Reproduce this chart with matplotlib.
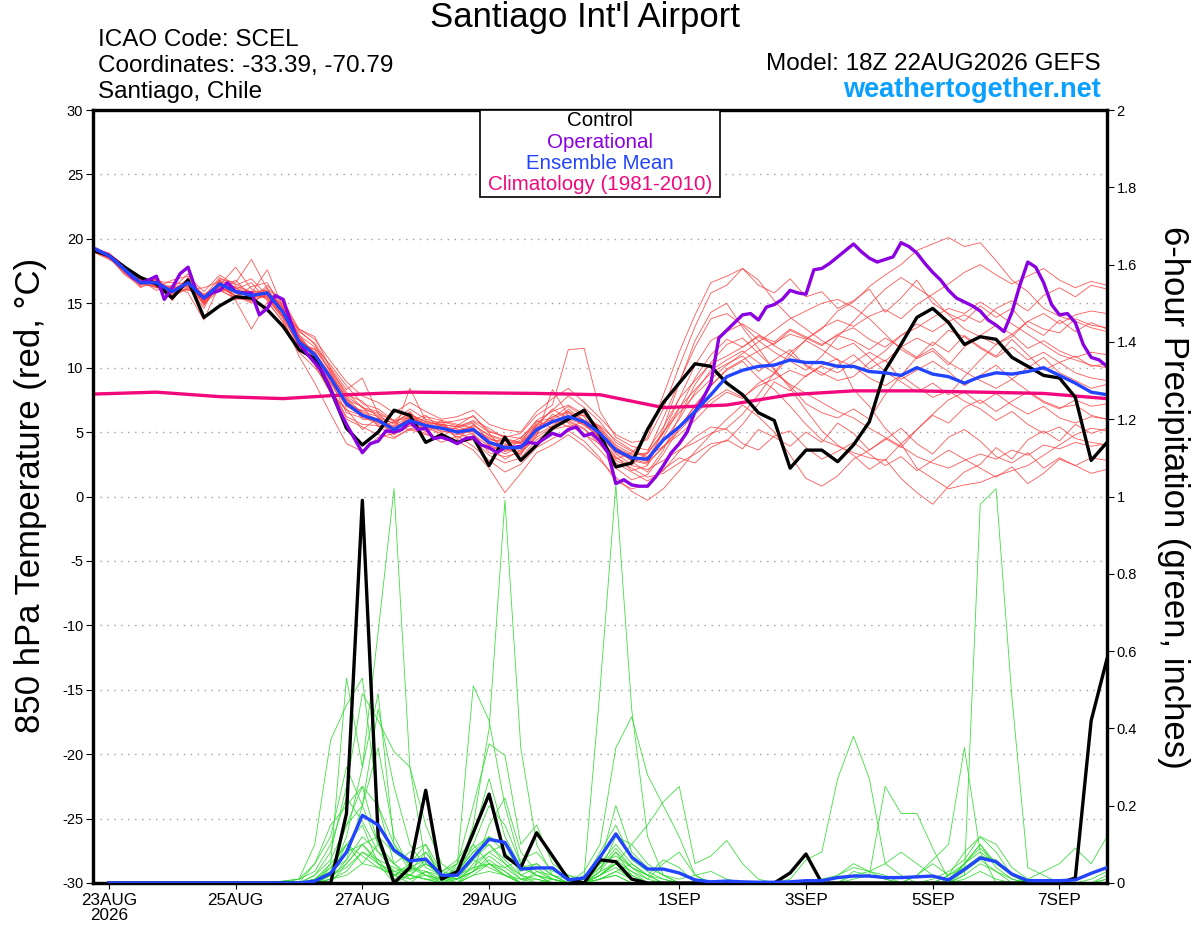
import numpy as np
import matplotlib
matplotlib.use("Agg")
import matplotlib.pyplot as plt
from matplotlib.patches import Rectangle
from datetime import datetime, timedelta

plt.rcParams['font.family'] = ['Liberation Sans', 'DejaVu Sans']
plt.rcParams['axes.unicode_minus'] = False

# ---------------- data ----------------
RUN = datetime(2026, 8, 22, 18)
TEMP_STEP_H = 6      # ensemble / control temperature step
OPER_STEP_H = 3      # operational temperature step
CLIM_STEP_H = 24     # climatology step
PCP_START_H = 6      # first 6-hour precip accumulation
PCP_STEP_H = 6

tick_dates = ["2026-08-23", "2026-08-25", "2026-08-27", "2026-08-29",
              "2026-09-01", "2026-09-03", "2026-09-05", "2026-09-07"]
tick_labels = ["23AUG\n2026", "25AUG", "27AUG", "29AUG", "1SEP", "3SEP", "5SEP", "7SEP"]
temp_ticks = [-30, -25, -20, -15, -10, -5, 0, 5, 10, 15, 20, 25, 30]
pcp_ticks = [0, 0.2, 0.4, 0.6, 0.8, 1.0, 1.2, 1.4, 1.6, 1.8, 2.0]
pcp_tick_labels = ["0", "0.2", "0.4", "0.6", "0.8", "1", "1.2", "1.4", "1.6", "1.8", "2"]

control_temp = [19.1, 18.7, 17.8, 17.0, 16.5, 15.4, 16.8, 13.9, 14.8, 15.5,
                15.4, 14.5, 13.2, 11.4, 10.7, 8.3, 5.3, 4.0, 5.0, 6.7,
                6.3, 4.2, 4.8, 4.2, 4.6, 2.4, 4.6, 2.8, 4.0, 5.3,
                6.0, 6.7, 4.8, 2.3, 2.6, 5.2, 7.3, 8.8, 10.3, 10.1,
                8.8, 7.9, 6.5, 5.9, 2.2, 3.6, 3.6, 2.7, 4.0, 5.8,
                9.8, 11.8, 13.9, 14.6, 13.5, 11.8, 12.4, 12.2, 10.8, 10.1,
                9.4, 9.2, 7.7, 2.8, 4.2]

mean_temp = [19.3, 18.7, 17.6, 16.6, 16.6, 15.9, 16.6, 15.4,
             16.5, 15.9, 15.6, 15.8, 14.3, 12.0, 11.0, 9.2,
             7.2, 6.3, 5.9, 5.2, 5.9, 5.5, 5.3, 5.0,
             5.2, 4.2, 3.8, 3.8, 5.2, 5.8, 6.2, 5.8,
             4.9, 3.6, 3.0, 2.9, 4.4, 5.4, 6.6, 7.9,
             9.3, 9.8, 10.1, 10.2, 10.6, 10.4, 10.4, 10.1,
             10.1, 9.7, 9.6, 9.4, 10.0, 9.5, 9.3, 8.8,
             9.3, 9.6, 9.5, 9.7, 10.0, 9.4, 8.8, 8.1,
             7.9]

oper_temp = [19.3, 19.0, 18.7, 18.2, 17.6, 17.0, 16.6, 16.8, 17.1, 15.3,
             16.2, 17.3, 17.8, 16.0, 15.4, 15.8, 16.0, 16.6, 15.9, 15.8,
             15.8, 14.1, 14.6, 15.6, 15.3, 13.5, 11.9, 11.1, 10.4, 9.6,
             8.3, 6.8, 5.6, 4.5, 3.4, 4.1, 4.3, 5.1, 5.0, 5.2,
             5.8, 5.2, 5.3, 4.5, 4.6, 4.4, 4.1, 4.5, 4.6, 4.0,
             3.8, 3.4, 3.8, 3.8, 3.9, 4.2, 4.1, 4.5, 4.9, 4.7,
             5.2, 5.4, 4.7, 4.9, 4.3, 3.4, 1.0, 1.3, 0.9, 0.8,
             0.8, 1.5, 2.4, 3.4, 4.1, 5.0, 6.6, 7.6, 8.8, 12.3,
             12.9, 13.5, 14.1, 14.2, 13.7, 14.7, 14.9, 15.3, 16.0, 15.8,
             15.7, 17.6, 17.7, 18.1, 18.6, 19.1, 19.6, 19.0, 18.5, 18.2,
             18.4, 18.6, 19.7, 19.4, 18.9, 18.1, 17.4, 16.8, 16.0, 15.4,
             15.1, 14.8, 14.4, 13.7, 13.3, 12.8, 14.3, 16.4, 18.2, 17.8,
             16.6, 14.9, 14.1, 14.2, 13.5, 11.8, 10.8, 10.6, 10.1]

clim_temp = [7.95, 8.1, 7.75, 7.6, 7.9, 8.1, 8.05, 8.0, 7.9, 6.9,
             7.1, 7.9, 8.2, 8.2, 8.1, 8.0, 7.6]

t_m01 = [19.2, 18.9, 17.9, 16.9, 16.2, 16.8, 17.1, 15.9,
         17.2, 16.4, 16.9, 15.6, 14.0, 12.4, 10.6, 8.1,
         6.8, 5.2, 6.1, 4.9, 6.4, 5.8, 4.6, 5.5,
         4.8, 3.9, 2.9, 3.6, 4.9, 6.4, 5.7, 4.8,
         4.1, 2.9, 3.4, 4.6, 7.9, 11.2, 14.1, 16.6,
         17.1, 17.7, 16.4, 15.8, 16.9, 15.5, 15.9, 14.6,
         15.2, 16.1, 14.3, 15.4, 16.8, 15.0, 14.2, 13.6,
         14.8, 13.9, 14.6, 13.2, 12.5, 13.7, 12.8, 13.5, 13.0]
t_m02 = [19.0, 18.5, 17.4, 16.2, 17.0, 15.5, 16.2, 15.0,
         16.0, 15.4, 15.2, 16.4, 15.0, 12.9, 11.8, 9.6,
         7.5, 7.0, 5.4, 5.8, 5.1, 6.2, 5.9, 4.4,
         5.6, 4.7, 4.3, 3.2, 5.8, 6.1, 7.0, 6.2,
         4.5, 3.1, 2.0, 2.4, 5.3, 8.8, 12.1, 14.3,
         15.0, 13.1, 11.5, 9.8, 8.6, 7.2, 6.5, 6.1,
         6.8, 6.0, 7.9, 9.4, 10.8, 12.0, 11.2, 12.5,
         11.6, 10.9, 12.2, 11.0, 9.8, 10.4, 9.6, 9.2, 9.0]
t_m03 = [19.1, 18.6, 17.2, 16.4, 16.9, 15.2, 16.9, 14.8,
         16.8, 15.2, 13.0, 15.1, 13.6, 11.2, 10.0, 8.5,
         6.0, 5.4, 4.8, 4.5, 5.3, 4.9, 4.2, 4.7,
         3.9, 2.8, 1.9, 2.5, 3.8, 4.5, 5.1, 4.3,
         3.0, 1.2, 0.6, 0.9, 2.1, 3.0, 2.6, 3.8,
         4.4, 3.7, 5.2, 4.6, 3.9, 5.0, 4.2, 5.7,
         4.9, 3.6, 4.4, 5.3, 4.1, 3.3, 4.6, 5.2,
         4.3, 3.1, 2.6, 3.4, 2.2, 3.0, 2.4, 1.8, 2.1]
t_m04 = [19.2, 18.8, 17.7, 16.8, 16.4, 16.3, 16.0, 15.7,
         15.9, 16.3, 15.9, 15.3, 13.9, 11.6, 11.5, 9.8,
         8.1, 6.9, 6.3, 5.6, 6.6, 5.2, 5.8, 5.5,
         6.3, 4.9, 3.5, 4.4, 5.5, 6.8, 6.0, 6.6,
         5.2, 3.9, 2.7, 1.9, 3.6, 6.2, 8.7, 10.4,
         11.8, 12.3, 11.1, 9.9, 8.4, 6.7, 5.1, 4.0,
         3.2, 2.1, 2.9, 1.4, 0.3, -0.6, 0.8, 1.9,
         2.5, 3.8, 2.9, 4.4, 5.1, 4.3, 5.6, 4.9, 5.3]
t_m05 = [19.3, 18.7, 17.5, 16.7, 16.8, 15.8, 16.4, 15.6,
         16.2, 15.6, 15.0, 15.9, 14.8, 12.2, 10.8, 8.9,
         7.3, 6.6, 6.2, 5.0, 8.4, 5.9, 5.5, 5.2,
         5.0, 4.5, 4.1, 3.5, 4.8, 5.5, 6.5, 5.6,
         4.6, 3.8, 3.2, 3.4, 5.0, 6.9, 8.3, 9.6,
         10.3, 10.9, 9.7, 10.6, 11.4, 10.1, 9.4, 10.2,
         11.0, 9.9, 10.6, 9.1, 9.8, 10.5, 9.7, 8.6,
         9.4, 10.2, 9.1, 10.0, 10.8, 9.6, 9.0, 8.4, 8.7]
t_m06 = [19.0, 18.4, 17.8, 16.3, 16.5, 16.1, 17.3, 15.2,
         16.6, 16.5, 15.8, 17.6, 14.6, 12.6, 10.9, 9.0,
         6.5, 6.1, 6.0, 5.4, 6.0, 5.0, 5.6, 4.9,
         4.5, 3.6, 4.0, 4.2, 5.9, 5.3, 6.8, 5.9,
         5.5, 4.4, 3.6, 3.1, 3.9, 4.8, 5.9, 7.2,
         8.1, 7.6, 8.8, 9.5, 10.9, 12.2, 13.0, 14.4,
         15.1, 16.3, 17.2, 18.0, 19.1, 19.6, 20.1, 19.4,
         19.7, 18.3, 16.8, 15.9, 14.6, 14.0, 13.6, 13.1, 12.8]
t_m07 = [19.1, 18.8, 17.6, 17.0, 16.3, 15.6, 16.7, 14.9,
         16.4, 17.8, 16.1, 15.5, 14.5, 12.3, 11.2, 9.4,
         7.7, 6.4, 5.7, 5.5, 6.2, 5.6, 5.0, 5.1,
         5.4, 4.0, 3.3, 3.9, 5.0, 6.0, 5.4, 5.8,
         4.8, 3.3, 2.5, 3.4, 6.1, 8.9, 11.6, 13.8,
         14.2, 13.3, 12.1, 11.2, 10.5, 9.8, 10.9, 12.4,
         13.6, 14.9, 16.1, 17.0, 16.2, 15.4, 14.1, 13.0,
         12.4, 11.8, 12.6, 11.5, 12.1, 11.3, 10.8, 11.2, 11.0]
t_m08 = [19.2, 18.6, 17.3, 16.5, 16.9, 15.4, 16.3, 15.2,
         16.1, 15.3, 15.4, 16.2, 14.1, 11.8, 11.1, 9.5,
         7.6, 6.0, 5.9, 4.8, 5.5, 5.2, 5.4, 4.6,
         4.9, 3.4, 3.1, 3.4, 4.6, 5.4, 5.9, 5.3,
         4.0, 2.6, 1.9, 1.2, 2.0, 3.5, 4.6, 5.4,
         5.2, 4.1, 3.6, 4.7, 5.1, 3.8, 2.9, 3.5,
         4.2, 3.3, 2.4, 3.1, 2.0, 2.8, 3.6, 2.9,
         2.2, 1.5, 2.3, 1.0, 1.8, 2.9, 2.4, 3.0, 2.8]
t_m09 = [19.3, 18.9, 17.8, 16.5, 16.7, 16.6, 16.5, 15.5,
         17.0, 16.2, 15.3, 15.9, 14.9, 12.5, 11.6, 10.2,
         8.6, 7.2, 6.8, 5.9, 6.8, 6.0, 5.7, 5.9,
         6.2, 5.1, 4.6, 4.9, 6.3, 7.1, 11.4, 11.5,
         6.6, 4.6, 3.9, 3.6, 5.4, 7.6, 9.0, 10.3,
         10.9, 11.6, 12.4, 11.8, 12.9, 12.3, 11.7, 12.6,
         13.1, 12.2, 11.6, 12.5, 13.4, 12.8, 13.6, 14.1,
         13.5, 14.6, 15.2, 14.4, 15.6, 16.2, 15.5, 16.4, 16.1]
t_m10 = [19.1, 18.5, 17.5, 16.6, 16.2, 16.0, 16.9, 15.3,
         16.3, 16.0, 15.7, 15.4, 13.8, 10.9, 8.8, 6.4,
         4.1, 3.5, 4.6, 4.9, 5.7, 5.3, 4.9, 4.2,
         4.4, 3.2, 2.6, 3.0, 4.4, 5.2, 5.5, 4.9,
         3.6, 2.2, 1.3, 1.7, 3.3, 5.3, 7.1, 8.6,
         9.8, 10.5, 9.2, 8.3, 7.0, 5.6, 4.4, 3.9,
         3.4, 3.0, 2.8, 4.1, 5.2, 6.3, 5.7, 6.9,
         7.5, 6.6, 7.4, 8.1, 7.3, 6.8, 7.5, 7.0, 7.2]
t_m11 = [19.2, 18.7, 17.9, 16.7, 16.6, 15.7, 16.1, 16.2,
         16.7, 15.5, 16.3, 16.6, 14.4, 12.1, 10.4, 8.7,
         7.0, 6.7, 6.5, 5.1, 5.9, 6.3, 5.2, 5.3,
         5.7, 4.3, 3.9, 4.6, 5.6, 6.7, 7.8, 6.9,
         5.8, 4.2, 3.5, 3.0, 4.9, 7.6, 10.2, 12.1,
         12.8, 13.4, 12.6, 11.7, 11.0, 10.2, 9.6, 9.0,
         9.3, 10.4, 11.3, 12.5, 13.1, 13.9, 14.6, 14.2,
         15.1, 14.3, 13.4, 12.6, 11.8, 11.0, 10.6, 10.2, 10.0]
t_m12 = [19.0, 18.6, 17.6, 16.4, 17.1, 15.6, 16.6, 15.1,
         16.2, 15.8, 15.1, 15.7, 14.2, 13.0, 12.4, 9.9,
         7.9, 7.4, 6.1, 5.7, 6.5, 5.4, 5.9, 5.6,
         5.3, 4.4, 4.3, 4.1, 5.3, 6.2, 6.6, 5.7,
         4.4, 3.0, 2.4, 2.1, 2.8, 3.6, 4.2, 4.9,
         5.3, 6.4, 7.9, 9.6, 11.2, 12.1, 11.4, 10.6,
         10.1, 9.2, 8.6, 9.4, 8.5, 7.7, 8.2, 7.4,
         6.8, 5.9, 6.6, 5.6, 4.9, 5.4, 4.5, 4.2, 4.0]
t_m13 = [19.3, 18.8, 17.4, 16.8, 16.0, 16.4, 15.8, 13.7,
         16.5, 16.1, 16.6, 15.2, 13.5, 11.5, 10.7, 8.4,
         6.2, 5.6, 5.5, 4.6, 5.2, 4.8, 4.5, 4.3,
         3.6, 2.2, 0.3, 1.8, 3.4, 4.0, 4.8, 3.9,
         2.8, 1.5, 0.4, -0.3, 0.6, 2.0, 3.5, 4.8,
         6.0, 7.1, 6.2, 5.0, 3.2, 1.4, 0.8, 1.6,
         2.9, 3.6, 4.5, 3.8, 5.2, 6.4, 7.5, 8.1,
         7.2, 8.0, 7.1, 6.4, 7.0, 6.1, 5.7, 6.2, 6.0]
t_m14 = [19.1, 18.7, 17.7, 16.6, 16.4, 16.2, 16.4, 14.6,
         16.9, 16.6, 18.4, 16.1, 15.2, 13.0, 12.2, 10.5,
         8.9, 7.8, 7.3, 6.5, 7.3, 6.6, 6.0, 6.2,
         6.7, 5.6, 5.2, 5.0, 6.6, 7.6, 8.4, 7.3,
         6.1, 4.8, 4.2, 4.4, 6.8, 10.1, 13.2, 15.8,
         16.4, 17.7, 16.8, 15.2, 13.9, 13.0, 12.1, 11.4,
         11.9, 10.8, 9.7, 8.9, 8.1, 8.8, 7.9, 9.3,
         10.6, 11.8, 12.4, 13.6, 13.0, 12.7, 13.8, 13.3, 13.1]
t_m15 = [19.2, 18.5, 17.5, 16.9, 16.6, 15.3, 17.0, 15.6,
         16.0, 16.8, 15.5, 15.7, 14.7, 12.8, 11.9, 10.0,
         8.3, 9.2, 6.4, 5.9, 6.1, 5.7, 5.6, 5.4,
         5.9, 5.3, 4.5, 4.2, 5.1, 5.7, 6.2, 6.3,
         5.3, 3.7, 3.1, 2.7, 3.8, 5.4, 7.0, 8.6,
         9.9, 10.6, 11.3, 11.9, 12.6, 12.2, 13.1, 13.7,
         13.2, 14.0, 14.5, 13.8, 14.9, 15.7, 16.5, 17.4,
         18.0, 17.2, 16.5, 17.1, 17.7, 16.8, 16.2, 16.7, 16.4]
t_m16 = [19.0, 18.6, 17.6, 16.5, 16.7, 15.9, 16.1, 15.4,
         16.6, 15.9, 15.6, 15.5, 13.9, 11.7, 10.2, 8.0,
         6.7, 6.3, 5.8, 5.3, 6.0, 5.5, 5.1, 4.8,
         5.1, 4.1, 3.7, 3.3, 4.7, 8.3, 6.3, 5.5,
         4.7, 3.4, 2.9, 2.6, 4.6, 6.8, 9.2, 11.0,
         12.2, 11.6, 12.5, 12.0, 13.0, 12.4, 11.8, 12.5,
         12.1, 11.4, 12.3, 11.6, 10.8, 11.5, 10.4, 9.7,
         9.0, 8.4, 9.1, 8.2, 7.4, 6.9, 7.1, 6.3, 6.0]
t_m17 = [19.3, 18.8, 17.6, 16.7, 16.5, 16.0, 16.7, 15.1,
         16.4, 15.6, 15.9, 16.0, 14.6, 12.4, 11.0, 9.1,
         7.1, 6.2, 5.6, 5.0, 5.5, 5.6, 5.3, 5.0,
         5.2, 4.6, 3.8, 3.7, 5.1, 5.9, 5.8, 5.2,
         4.3, 2.8, 2.2, 1.5, 1.8, 2.6, 3.3, 4.1,
         4.3, 5.6, 7.2, 8.9, 8.2, 9.4, 10.1, 9.6,
         10.4, 11.2, 10.5, 11.6, 12.3, 11.7, 12.9, 12.4,
         11.5, 10.8, 11.6, 10.6, 11.2, 10.4, 10.9, 10.1, 10.3]
t_m18 = [19.2, 18.7, 17.8, 16.6, 16.8, 16.1, 16.3, 15.0,
         16.3, 15.5, 15.3, 15.6, 14.0, 11.9, 10.6, 8.8,
         7.4, 6.5, 6.0, 5.3, 6.0, 5.3, 5.5, 4.9,
         5.1, 4.0, 3.5, 3.9, 5.5, 6.0, 6.6, 5.9,
         5.1, 3.5, 2.8, 2.5, 3.9, 5.1, 6.4, 7.5,
         8.3, 7.7, 8.6, 9.1, 9.8, 9.3, 10.2, 10.7,
         8.3, 7.0, 5.3, 4.1, 2.2, 1.4, 0.6, 0.9,
         1.1, 1.6, 2.0, 2.4, 3.2, 4.0, 4.8, 5.3, 5.1]
t_m19 = [19.1, 18.6, 17.5, 16.5, 16.3, 15.8, 16.8, 15.3,
         16.8, 16.2, 15.7, 15.9, 14.3, 12.2, 11.2, 9.3,
         7.0, 6.3, 6.0, 5.3, 6.1, 5.6, 5.3, 5.1,
         5.5, 4.8, 4.4, 4.2, 5.4, 5.8, 6.0, 5.6,
         4.9, 3.6, 3.0, 2.8, 4.3, 6.0, 8.1, 9.8,
         10.6, 11.3, 10.4, 9.6, 8.7, 8.0, 7.3, 6.6,
         6.1, 5.3, 4.6, 3.9, 3.1, 2.6, 2.2, 2.8,
         3.3, 2.9, 3.6, 3.2, 4.0, 3.7, 4.2, 3.9, 4.1]
t_m20 = [19.2, 18.8, 17.6, 16.8, 16.5, 15.9, 16.5, 15.7,
         16.5, 16.0, 15.8, 15.9, 14.5, 12.0, 11.4, 9.7,
         7.8, 6.9, 6.6, 5.8, 6.3, 5.8, 5.6, 5.4,
         5.8, 5.0, 4.7, 4.5, 5.9, 6.6, 7.1, 6.4,
         5.4, 4.0, 3.3, 3.3, 5.0, 6.5, 7.9, 9.1,
         10.2, 11.1, 12.0, 12.9, 13.8, 14.4, 15.0, 15.3,
         14.7, 13.8, 12.6, 11.4, 10.7, 11.3, 10.2, 11.6,
         12.5, 13.3, 12.6, 13.6, 14.2, 13.4, 14.1, 14.4, 14.2]

control_pcp = [0, 0, 0, 0, 0, 0, 0, 0,
               0, 0, 0, 0, 0, 0, 0, 0.18,
               0.99, 0.12, 0, 0.04, 0.24, 0.01, 0.03, 0.13,
               0.23, 0.07, 0.04, 0.13, 0.07, 0.01, 0, 0.06,
               0.055, 0.01, 0, 0, 0, 0, 0, 0,
               0, 0, 0, 0.026, 0.075, 0, 0, 0,
               0, 0, 0, 0, 0, 0, 0, 0,
               0, 0, 0, 0, 0, 0.013, 0.42, 0.58]
mean_pcp = [0, 0, 0, 0, 0, 0, 0, 0,
            0, 0, 0, 0, 0, 0.005, 0.025, 0.08,
            0.175, 0.15, 0.085, 0.057, 0.062, 0.02, 0.02, 0.067,
            0.113, 0.105, 0.036, 0.039, 0.039, 0.008, 0.013, 0.067,
            0.127, 0.067, 0.036, 0.036, 0.026, 0.008, 0.003, 0.005,
            0.003, 0.002, 0.002, 0.003, 0.006, 0.006, 0.014, 0.018,
            0.018, 0.014, 0.014, 0.016, 0.018, 0.008, 0.035, 0.065,
            0.055, 0.023, 0.006, 0.006, 0.006, 0.008, 0.025, 0.04]

p_m01 = [0, 0, 0, 0, 0, 0, 0, 0,
         0, 0, 0, 0, 0, 0, 0.02, 0.12,
         0.3, 0.65, 1.02, 0.3, 0.05, 0.02, 0, 0.03,
         0.05, 0.02, 0, 0, 0, 0, 0, 0.01,
         0.02, 0, 0, 0, 0, 0, 0, 0,
         0, 0, 0, 0, 0, 0, 0, 0,
         0, 0, 0, 0, 0, 0, 0, 0,
         0, 0, 0, 0, 0, 0, 0, 0.01]
p_m02 = [0, 0, 0, 0, 0, 0, 0, 0,
         0, 0, 0, 0, 0, 0.01, 0.05, 0.1,
         0.05, 0.1, 0.02, 0.05, 0.1, 0, 0.02, 0.15,
         0.4, 0.99, 0.35, 0.1, 0.02, 0, 0, 0.03,
         0.08, 0.02, 0, 0, 0, 0, 0, 0,
         0, 0, 0, 0, 0, 0, 0, 0,
         0, 0, 0, 0, 0, 0, 0.01, 0.03,
         0.01, 0, 0, 0, 0, 0, 0, 0]
p_m03 = [0, 0, 0, 0, 0, 0, 0, 0,
         0, 0, 0, 0, 0, 0.05, 0.15, 0.2,
         0.25, 0.1, 0.02, 0, 0.03, 0, 0, 0.05,
         0.08, 0.1, 0.02, 0, 0.01, 0, 0.02, 0.5,
         1.03, 0.45, 0.12, 0.02, 0, 0, 0, 0,
         0, 0, 0, 0, 0, 0, 0, 0,
         0, 0, 0, 0, 0, 0, 0, 0,
         0, 0, 0, 0, 0, 0, 0, 0]
p_m04 = [0, 0, 0, 0, 0, 0, 0, 0,
         0, 0, 0, 0, 0, 0, 0.02, 0.1,
         0.15, 0.05, 0, 0.02, 0.01, 0, 0, 0.02,
         0.05, 0.03, 0, 0, 0, 0, 0, 0.02,
         0.05, 0.02, 0, 0, 0, 0, 0, 0,
         0, 0, 0, 0, 0, 0, 0, 0.02,
         0.03, 0.05, 0.08, 0.05, 0.02, 0, 0.02, 0.98,
         1.02, 0.48, 0.04, 0.02, 0, 0, 0, 0]
p_m05 = [0, 0, 0, 0, 0, 0, 0, 0,
         0, 0, 0, 0, 0.01, 0.1, 0.37, 0.46,
         0.53, 0.2, 0.05, 0.01, 0.02, 0, 0.05, 0.1,
         0.05, 0.02, 0, 0.03, 0.01, 0, 0, 0.05,
         0.1, 0.05, 0.02, 0, 0, 0, 0, 0,
         0, 0, 0, 0, 0, 0, 0, 0,
         0, 0, 0, 0, 0, 0, 0, 0,
         0, 0, 0, 0, 0, 0, 0, 0]
p_m06 = [0, 0, 0, 0, 0, 0, 0, 0,
         0, 0, 0, 0, 0, 0, 0.05, 0.53,
         0.3, 0.49, 0.1, 0.05, 0.08, 0.02, 0.01, 0.06,
         0.1, 0.05, 0.01, 0, 0, 0, 0, 0.02,
         0.04, 0.01, 0, 0, 0, 0, 0, 0,
         0, 0, 0, 0, 0, 0, 0, 0,
         0, 0, 0, 0, 0, 0, 0.05, 0.1,
         0.04, 0.01, 0, 0, 0, 0, 0, 0]
p_m07 = [0, 0, 0, 0, 0, 0, 0, 0,
         0, 0, 0, 0, 0, 0.02, 0.08, 0.25,
         0.49, 0.42, 0.34, 0.3, 0.15, 0.05, 0.02, 0.1,
         0.2, 0.15, 0.05, 0.02, 0.01, 0, 0.01, 0.04,
         0.08, 0.04, 0.01, 0, 0, 0, 0, 0,
         0, 0, 0, 0, 0, 0, 0.02, 0.05,
         0.03, 0.02, 0, 0, 0, 0, 0, 0,
         0, 0, 0, 0, 0, 0, 0, 0]
p_m08 = [0, 0, 0, 0, 0, 0, 0, 0,
         0, 0, 0, 0, 0, 0, 0, 0.05,
         0.1, 0.05, 0.02, 0.04, 0.06, 0.02, 0.05, 0.51,
         0.42, 0.2, 0.05, 0.02, 0, 0, 0, 0.01,
         0.03, 0.01, 0, 0, 0, 0, 0, 0,
         0, 0, 0, 0, 0, 0, 0, 0,
         0, 0, 0, 0, 0, 0, 0, 0,
         0, 0, 0, 0, 0, 0, 0, 0]
p_m09 = [0, 0, 0, 0, 0, 0, 0, 0,
         0, 0, 0, 0, 0, 0.01, 0.03, 0.15,
         0.2, 0.1, 0.05, 0.08, 0.1, 0.03, 0.05, 0.2,
         0.36, 0.33, 0.1, 0.15, 0.05, 0.02, 0, 0.03,
         0.12, 0.1, 0.05, 0.02, 0, 0, 0, 0,
         0, 0, 0, 0, 0, 0, 0, 0,
         0, 0, 0, 0.02, 0.05, 0.02, 0.08, 0.12,
         0.08, 0.02, 0, 0, 0, 0, 0.01, 0.03]
p_m10 = [0, 0, 0, 0, 0, 0, 0, 0,
         0, 0, 0, 0, 0, 0, 0.04, 0.08,
         0.1, 0.06, 0.01, 0.02, 0.05, 0.03, 0.06, 0.12,
         0.27, 0.12, 0.04, 0.05, 0.02, 0, 0.03, 0.1,
         0.35, 0.43, 0.28, 0.2, 0.12, 0.02, 0, 0,
         0, 0, 0, 0, 0, 0, 0, 0,
         0, 0, 0, 0, 0, 0, 0.05, 0.08,
         0, 0, 0, 0, 0, 0, 0, 0]
p_m11 = [0, 0, 0, 0, 0, 0, 0, 0,
         0, 0, 0, 0, 0, 0, 0.03, 0.06,
         0.12, 0.08, 0.03, 0.04, 0.02, 0.01, 0.02, 0.06,
         0.04, 0.02, 0.01, 0.02, 0, 0, 0, 0.02,
         0.05, 0.1, 0.15, 0.21, 0.25, 0.05, 0.07, 0.11,
         0.05, 0.01, 0, 0, 0, 0, 0, 0,
         0, 0, 0, 0, 0, 0, 0, 0,
         0, 0, 0, 0, 0, 0, 0, 0]
p_m12 = [0, 0, 0, 0, 0, 0, 0, 0,
         0, 0, 0, 0, 0, 0, 0.01, 0.03,
         0.08, 0.05, 0.03, 0.02, 0.01, 0, 0.01, 0.03,
         0.06, 0.03, 0, 0, 0, 0, 0, 0.01,
         0.02, 0, 0, 0, 0, 0, 0, 0,
         0, 0, 0, 0.01, 0.06, 0.08, 0.27, 0.38,
         0.27, 0.05, 0.02, 0, 0, 0, 0, 0,
         0, 0, 0, 0, 0, 0, 0, 0]
p_m13 = [0, 0, 0, 0, 0, 0, 0, 0,
         0, 0, 0, 0, 0, 0.02, 0.06, 0.15,
         0.25, 0.2, 0.1, 0.03, 0.05, 0.02, 0.01, 0.04,
         0.08, 0.05, 0.02, 0.01, 0, 0, 0, 0.03,
         0.05, 0.01, 0, 0, 0, 0, 0, 0,
         0, 0, 0, 0, 0, 0, 0, 0.03,
         0.02, 0.25, 0.18, 0.18, 0.09, 0.01, 0.05, 0.1,
         0.05, 0.02, 0, 0, 0, 0, 0, 0]
p_m14 = [0, 0, 0, 0, 0, 0, 0, 0,
         0, 0, 0, 0, 0, 0, 0.02, 0.05,
         0.1, 0.12, 0.08, 0.05, 0.02, 0.01, 0.03, 0.08,
         0.1, 0.06, 0.02, 0.04, 0.01, 0, 0, 0.02,
         0.06, 0.03, 0, 0, 0, 0, 0, 0,
         0, 0, 0, 0, 0, 0, 0, 0,
         0, 0, 0, 0.02, 0.06, 0.1, 0.35, 0.08,
         0.05, 0.02, 0, 0, 0, 0, 0, 0]
p_m15 = [0, 0, 0, 0, 0, 0, 0, 0,
         0, 0, 0, 0, 0, 0, 0.01, 0.02,
         0.05, 0.04, 0.02, 0.01, 0.03, 0.01, 0, 0.02,
         0.03, 0.02, 0, 0, 0, 0, 0, 0.01,
         0.03, 0.05, 0.02, 0, 0, 0, 0, 0,
         0, 0, 0, 0, 0, 0, 0, 0,
         0, 0, 0, 0, 0, 0, 0, 0,
         0, 0, 0.01, 0.03, 0.05, 0.09, 0.05, 0.12]
p_m16 = [0, 0, 0, 0, 0, 0, 0, 0,
         0, 0, 0, 0.005, 0.01, 0.05, 0.12, 0.3,
         0.2, 0.45, 0.25, 0.1, 0.04, 0.02, 0.03, 0.08,
         0.12, 0.08, 0.03, 0.05, 0.02, 0.01, 0.01, 0.05,
         0.07, 0.04, 0.02, 0.01, 0, 0, 0, 0,
         0, 0, 0, 0, 0, 0, 0, 0,
         0, 0, 0, 0, 0, 0, 0.03, 0.06,
         0.03, 0, 0, 0, 0, 0, 0, 0]
p_m17 = [0, 0, 0, 0, 0, 0, 0, 0,
         0, 0, 0, 0.005, 0.01, 0.03, 0.1, 0.22,
         0.16, 0.08, 0.05, 0.02, 0.06, 0.01, 0.01, 0.03,
         0.15, 0.22, 0.08, 0.03, 0.02, 0, 0.01, 0.08,
         0.15, 0.06, 0.03, 0.01, 0, 0, 0, 0,
         0, 0, 0, 0, 0, 0.01, 0.02, 0.04,
         0.03, 0.01, 0, 0, 0, 0.02, 0.04, 0.07,
         0.06, 0.02, 0, 0, 0, 0, 0, 0.02]
p_m18 = [0, 0, 0, 0, 0, 0, 0, 0,
         0, 0, 0, 0, 0, 0.01, 0.04, 0.1,
         0.07, 0.04, 0.02, 0.03, 0.08, 0.03, 0.02, 0.04,
         0.05, 0.04, 0.06, 0.08, 0.03, 0.02, 0.01, 0.05,
         0.2, 0.08, 0.04, 0.02, 0.01, 0.02, 0.03, 0.01,
         0, 0, 0, 0, 0, 0, 0, 0,
         0, 0, 0, 0, 0.01, 0.03, 0.06, 0.12,
         0.1, 0.04, 0.01, 0, 0, 0, 0, 0]
p_m19 = [0, 0, 0, 0, 0, 0, 0, 0,
         0, 0, 0, 0, 0, 0, 0.01, 0.06,
         0.2, 0.35, 0.12, 0.04, 0.03, 0.02, 0.01, 0.03,
         0.07, 0.04, 0.01, 0.01, 0, 0, 0, 0.02,
         0.05, 0.03, 0.01, 0.05, 0.08, 0.02, 0, 0,
         0, 0, 0, 0, 0, 0, 0, 0.01,
         0.02, 0.01, 0, 0, 0, 0, 0.02, 0.05,
         0.03, 0.01, 0, 0, 0, 0, 0, 0]
p_m20 = [0, 0, 0, 0, 0, 0, 0, 0,
         0, 0, 0, 0, 0, 0, 0.02, 0.04,
         0.08, 0.06, 0.04, 0.02, 0.01, 0.01, 0.04, 0.09,
         0.12, 0.1, 0.04, 0.02, 0.01, 0, 0, 0.04,
         0.09, 0.04, 0.02, 0.06, 0.04, 0, 0, 0,
         0, 0, 0, 0, 0, 0, 0, 0,
         0, 0, 0, 0, 0, 0.02, 0.05, 0.09,
         0.05, 0.02, 0, 0, 0, 0, 0, 0.01]

temp_members = [t_m01, t_m02, t_m03, t_m04, t_m05, t_m06, t_m07, t_m08, t_m09, t_m10,
                t_m11, t_m12, t_m13, t_m14, t_m15, t_m16, t_m17, t_m18, t_m19, t_m20]
pcp_members = [p_m01, p_m02, p_m03, p_m04, p_m05, p_m06, p_m07, p_m08, p_m09, p_m10,
               p_m11, p_m12, p_m13, p_m14, p_m15, p_m16, p_m17, p_m18, p_m19, p_m20]

# ---------------- helpers ----------------
def times(n, step, start=0):
    return [RUN + timedelta(hours=start + step * k) for k in range(n)]

for m in temp_members:
    assert len(m) == len(control_temp), len(m)
for m in pcp_members:
    assert len(m) == len(control_pcp), len(m)

t_temp = times(len(control_temp), TEMP_STEP_H)
t_oper = times(len(oper_temp), OPER_STEP_H)
t_clim = times(len(clim_temp), CLIM_STEP_H)
t_pcp = times(len(control_pcp), PCP_STEP_H, PCP_START_H)

# ---------------- figure ----------------
W, H = 1200, 927
fig = plt.figure(figsize=(W / 100, H / 100), dpi=100)
L, R, T, B = 93, 1107, 110, 883
ax = fig.add_axes([L / W, 1 - B / H, (R - L) / W, (B - T) / H])

RED = '#FF3A3A'
GREEN = '#2EDB2E'
PURPLE = '#8A00E0'
BLUE = '#2244FF'
MAGENTA = '#F0087C'

for m in temp_members:
    ax.plot(t_temp, m, color=RED, lw=0.6, alpha=0.85, zorder=2)
ax.plot(t_clim, clim_temp, color=MAGENTA, lw=2.4, zorder=3)
ax.plot(t_temp, control_temp, color='black', lw=2.4, zorder=4)
ax.plot(t_oper, oper_temp, color=PURPLE, lw=2.4, zorder=5)
ax.plot(t_temp, mean_temp, color=BLUE, lw=2.4, zorder=6)

ax.set_xlim(RUN, RUN + timedelta(hours=384))
ax.set_ylim(-30, 30)
ax.set_yticks(temp_ticks)
ax.yaxis.grid(True, linestyle=(0, (1, 4)), color='#a0a0a0', lw=1.0)
ax.set_axisbelow(True)

xt = [datetime.strptime(d, "%Y-%m-%d") for d in tick_dates]
ax.set_xticks(xt)
ax.set_xticklabels(tick_labels, fontsize=12.3, linespacing=1.0)
ax.tick_params(axis='x', length=4, width=0.8, pad=3)
ax.tick_params(axis='y', length=5, width=0.8, labelsize=10.5, pad=2)

ax2 = ax.twinx()
for m in pcp_members:
    ax2.plot(t_pcp, m, color=GREEN, lw=0.6, alpha=0.9, zorder=2)
ax2.plot(t_pcp, control_pcp, color='black', lw=2.4, zorder=4)
ax2.plot(t_pcp, mean_pcp, color=BLUE, lw=2.4, zorder=5)
ax2.set_ylim(0, 2)
ax2.set_yticks(pcp_ticks)
ax2.set_yticklabels(pcp_tick_labels)
ax2.tick_params(axis='y', length=5, width=0.8, labelsize=10.5, pad=2)
ax2.set_xlim(RUN, RUN + timedelta(hours=384))

for a in (ax, ax2):
    for s in a.spines.values():
        s.set_linewidth(2.3)

ax.set_ylabel("850 hPa Temperature (red, \u00b0C)", fontsize=25)
ax.yaxis.set_label_coords(-0.045, 0.502)
ax2.set_ylabel("6-hour Precipitation (green, inches)", fontsize=25, rotation=270,
               va='center')
ax2.yaxis.set_label_coords(1.066, 0.499)

# legend box
box = Rectangle((0.3817, 0.8875), 0.2366, 0.1125, transform=ax2.transAxes,
                facecolor='white', edgecolor='black', lw=1.2, zorder=10)
ax2.add_patch(box)
leg_items = [("Control", 'black'), ("Operational", PURPLE),
             ("Ensemble Mean", BLUE), ("Climatology (1981-2010)", MAGENTA)]
for k, (txt, col) in enumerate(leg_items):
    ax2.text(0.5, 0.9858 - k * 0.0275, txt, color=col, fontsize=14.8,
             ha='center', va='center', transform=ax2.transAxes, zorder=11)

# header texts
fig.text(585 / W, 1 - 18 / H, "Santiago Int'l Airport", fontsize=25,
         ha='center', va='center')
fig.text(98 / W, 1 - 40 / H, "ICAO Code: SCEL", fontsize=17.5, ha='left', va='center')
fig.text(98 / W, 1 - 66 / H, "Coordinates: -33.39, -70.79", fontsize=17.5,
         ha='left', va='center')
fig.text(98 / W, 1 - 92 / H, "Santiago, Chile", fontsize=17.5, ha='left', va='center')
fig.text(1101 / W, 1 - 64 / H, "Model: 18Z 22AUG2026 GEFS", fontsize=17.5,
         ha='right', va='center')
fig.text(1101 / W, 1 - 90 / H, "weathertogether.net", fontsize=19.5, fontweight='bold',
         color='#0AA0FF', ha='right', va='center')

fig.savefig("out.png", dpi=100)
